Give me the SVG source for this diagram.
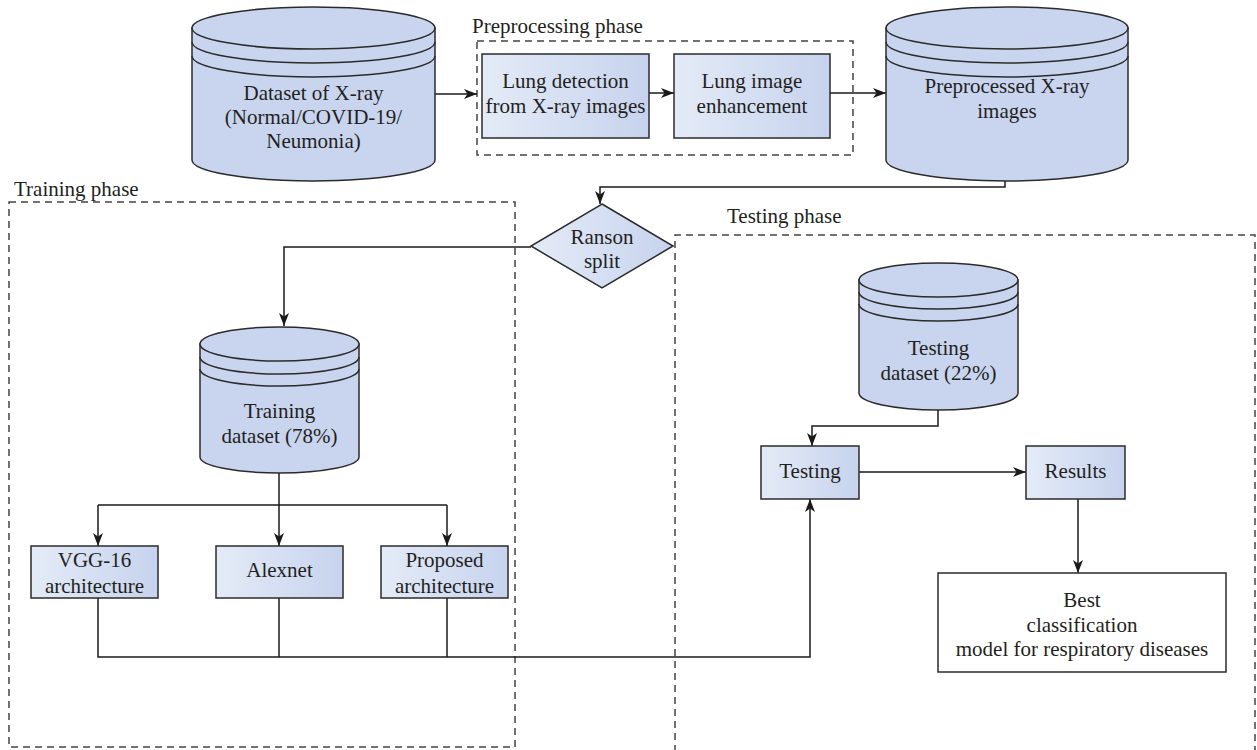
<svg xmlns="http://www.w3.org/2000/svg" width="1257" height="750" viewBox="0 0 1257 750">
<defs>
<linearGradient id="boxg" x1="0" y1="0" x2="1" y2="0">
<stop offset="0" stop-color="#e4ebf7"/>
<stop offset="1" stop-color="#c7d3ee"/>
</linearGradient>
<marker id="arr" markerUnits="userSpaceOnUse" markerWidth="14" markerHeight="12" viewBox="0 0 14 12" refX="13" refY="6" orient="auto">
<path d="M0,1 L13,6 L0,11 L3.5,6 Z" fill="#1a1a1a"/>
</marker>
</defs>
<style>
text{font-family:"Liberation Serif","Times New Roman",serif;font-size:21px;fill:#231f20;}
.c{text-anchor:middle;}
.cyl{fill:#c9d5ef;stroke:#2b2b2b;stroke-width:1.5;}
.ring{fill:none;stroke:#2b2b2b;stroke-width:1.5;}
.box{fill:url(#boxg);stroke:#2b2b2b;stroke-width:1.5;}
.wbox{fill:#ffffff;stroke:#2b2b2b;stroke-width:1.5;}
.dash{fill:none;stroke:#444;stroke-width:1.5;stroke-dasharray:7 5;}
.ln{fill:none;stroke:#1a1a1a;stroke-width:1.5;}
.ar{fill:none;stroke:#1a1a1a;stroke-width:1.5;marker-end:url(#arr);}
</style>

<g id="phases">
<path class="dash" d="M477,41 H853 V155 H477 Z"/>
<text x="472" y="33">Preprocessing phase</text>
<path class="dash" d="M9,202 H515 V747 H9 Z"/>
<text x="14" y="196">Training phase</text>
<path class="dash" d="M675,752 V235 H1255 V752"/>
<text x="727" y="223">Testing phase</text>
</g>

<g id="connectors">
<path class="ar" d="M435,94 H477"/>
<path class="ar" d="M649,93 H674"/>
<path class="ar" d="M830,93 H886"/>
<path class="ar" d="M1005,181 V187 H600 V204"/>
<path class="ar" d="M531,247 H284 V326"/>
<path class="ln" d="M98,505 H447"/>
<path class="ln" d="M279,473 V505"/>
<path class="ar" d="M279,505 V546"/>
<path class="ar" d="M98,505 V546"/>
<path class="ar" d="M447,505 V546"/>
<path class="ar" d="M98,598 V657 H810 V499"/>
<path class="ln" d="M279,598 V657"/>
<path class="ln" d="M447,598 V657"/>
<path class="ar" d="M938,410 V426 H812 V446"/>
<path class="ar" d="M859,472 H1026"/>
<path class="ar" d="M1078,499 V573"/>
</g>

<g id="dataset-xray">
<path class="cyl" d="M192,28 V160 A121.5,21 0 0 0 435,160 V28 Z"/>
<ellipse class="cyl" cx="313.5" cy="28" rx="121.5" ry="21"/>
<path class="ring" d="M192,42 A121.5,21 0 0 0 435,42"/>
<path class="ring" d="M192,56 A121.5,21 0 0 0 435,56"/>
<text class="c" x="313.5" y="100">Dataset of X-ray</text>
<text class="c" x="313.5" y="124">(Normal/COVID-19/</text>
<text class="c" x="313.5" y="148">Neumonia)</text>
</g>

<g id="lung-detection">
<rect class="box" x="482" y="54" width="167" height="84"/>
<text class="c" x="565.5" y="88">Lung detection</text>
<text class="c" x="565.5" y="113">from X-ray images</text>
</g>

<g id="lung-enhancement">
<rect class="box" x="674" y="54" width="156" height="84"/>
<text class="c" x="752" y="88">Lung image</text>
<text class="c" x="752" y="113">enhancement</text>
</g>

<g id="preprocessed">
<path class="cyl" d="M886,28 V160 A121,21 0 0 0 1128,160 V28 Z"/>
<ellipse class="cyl" cx="1007" cy="28" rx="121" ry="21"/>
<path class="ring" d="M886,42 A121,21 0 0 0 1128,42"/>
<path class="ring" d="M886,56 A121,21 0 0 0 1128,56"/>
<text class="c" x="1007" y="93">Preprocessed X-ray</text>
<text class="c" x="1007" y="118">images</text>
</g>

<g id="split">
<path class="box" d="M602,204 L673,246 L602,288 L531,246 Z"/>
<text class="c" x="602" y="244">Ranson</text>
<text class="c" x="602" y="268">split</text>
</g>

<g id="training-dataset">
<path class="cyl" d="M200,344 V457 A79.5,16 0 0 0 359,457 V344 Z"/>
<ellipse class="cyl" cx="279.5" cy="344" rx="79.5" ry="17"/>
<path class="ring" d="M200,357 A79.5,17 0 0 0 359,357"/>
<path class="ring" d="M200,369 A79.5,17 0 0 0 359,369"/>
<text class="c" x="279.5" y="418">Training</text>
<text class="c" x="279.5" y="443">dataset (78%)</text>
</g>

<g id="vgg16">
<rect class="box" x="31" y="546" width="127" height="52"/>
<text class="c" x="94.5" y="567">VGG-16</text>
<text class="c" x="94.5" y="593">architecture</text>
</g>

<g id="alexnet">
<rect class="box" x="216" y="546" width="127" height="52"/>
<text class="c" x="279.5" y="577">Alexnet</text>
</g>

<g id="proposed">
<rect class="box" x="381" y="546" width="127" height="52"/>
<text class="c" x="444.5" y="567">Proposed</text>
<text class="c" x="444.5" y="593">architecture</text>
</g>

<g id="testing-dataset">
<path class="cyl" d="M859,280 V393 A79.5,17 0 0 0 1018,393 V280 Z"/>
<ellipse class="cyl" cx="938.5" cy="280" rx="79.5" ry="17"/>
<path class="ring" d="M859,292 A79.5,17 0 0 0 1018,292"/>
<path class="ring" d="M859,304 A79.5,17 0 0 0 1018,304"/>
<text class="c" x="938.5" y="355">Testing</text>
<text class="c" x="938.5" y="380">dataset (22%)</text>
</g>

<g id="testing">
<rect class="box" x="761" y="446" width="98" height="53"/>
<text class="c" x="810" y="478">Testing</text>
</g>

<g id="results">
<rect class="box" x="1026" y="446" width="99" height="53"/>
<text class="c" x="1075.5" y="478">Results</text>
</g>

<g id="best-model">
<rect class="wbox" x="938" y="573" width="288" height="99"/>
<text class="c" x="1082" y="607">Best</text>
<text class="c" x="1082" y="632">classification</text>
<text class="c" x="1082" y="656">model for respiratory diseases</text>
</g>
</svg>
